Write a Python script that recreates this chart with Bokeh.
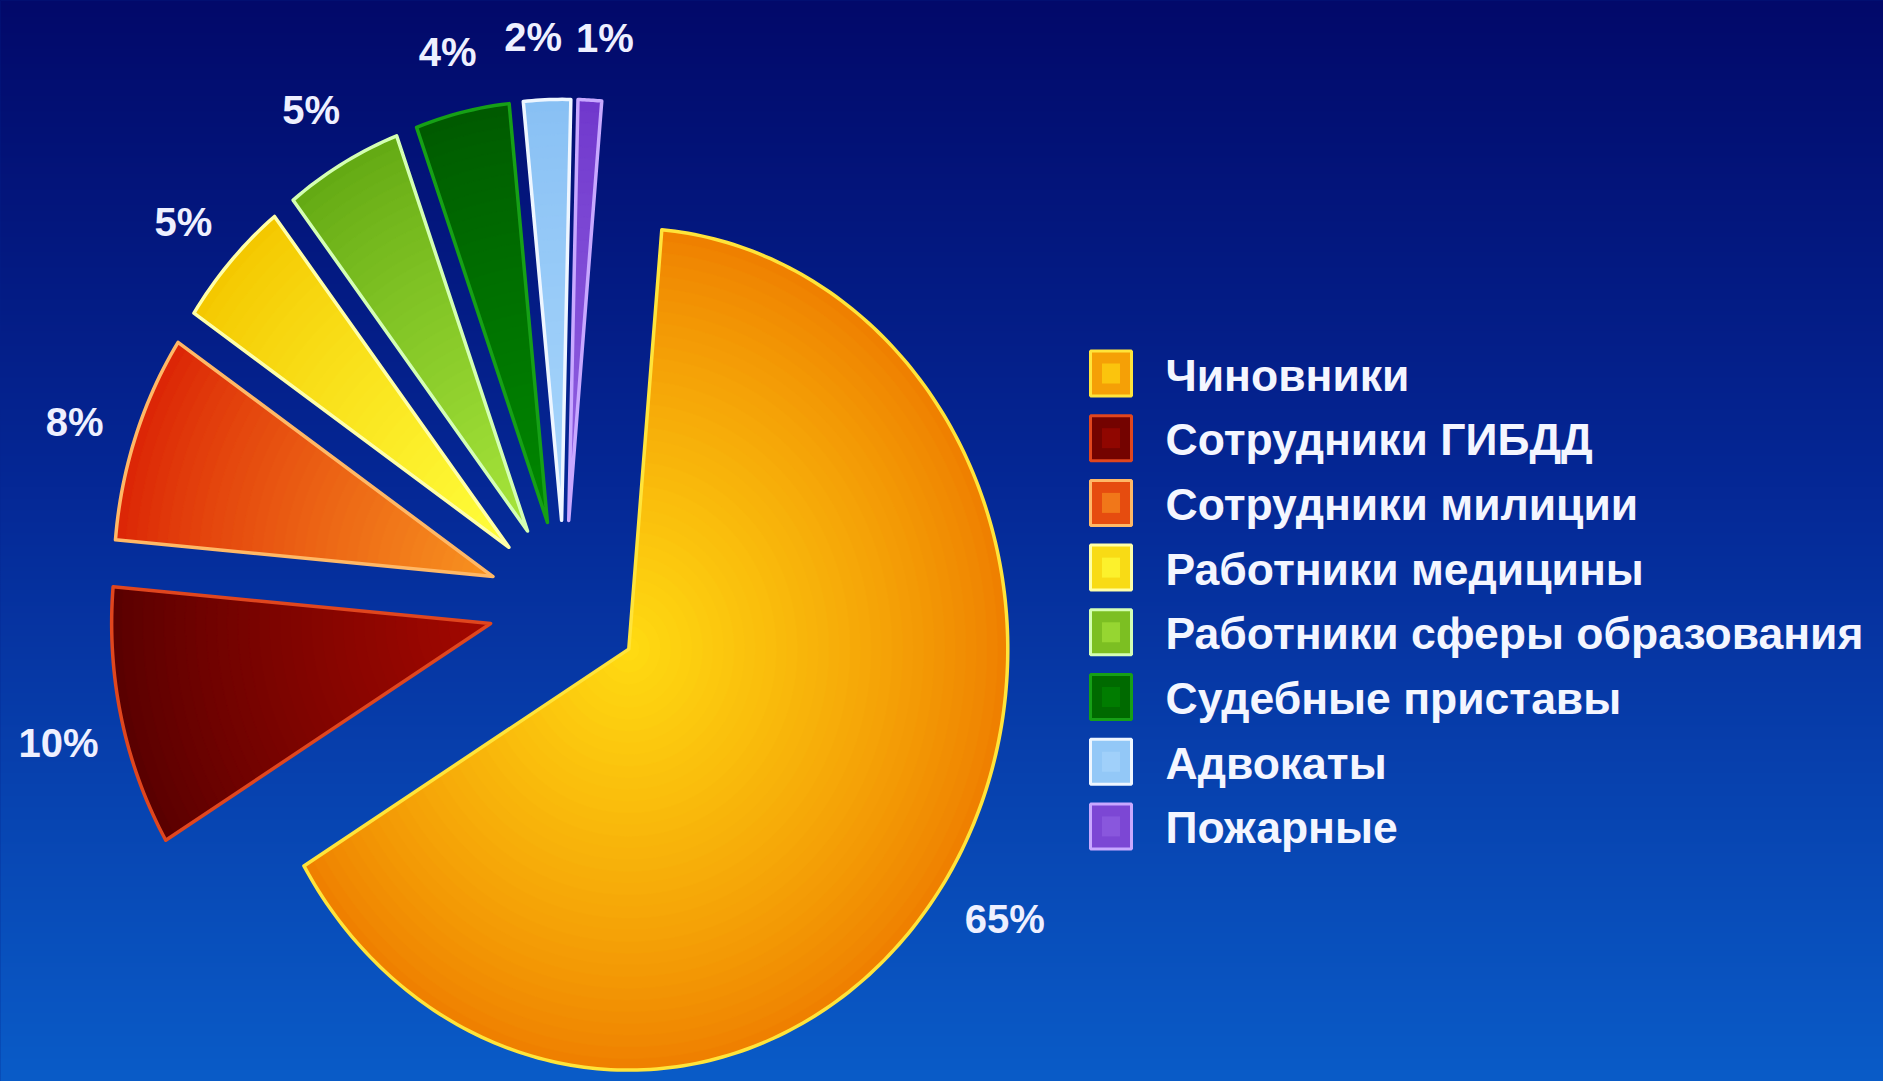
import numpy as np
from bokeh.plotting import figure
from bokeh.models import Range1d, ColumnDataSource, GlobalInlineStyleSheet
from bokeh.core.properties import value
from bokeh.embed import file_html
from bokeh.resources import INLINE

# ---------------- data ----------------
categories = ["Чиновники", "Сотрудники ГИБДД", "Сотрудники милиции",
              "Работники медицины", "Работники сферы образования",
              "Судебные приставы", "Адвокаты", "Пожарные"]
shares = [65, 10, 8, 5, 5, 4, 2, 1]
pct_labels = [f"{v}%" for v in shares]

# ---------------- styles ----------------
rim_colors = ["#ef8000", "#5a0000", "#dc2606", "#f4c800", "#64aa14", "#005a00", "#88c0f4", "#7038cc"]
core_colors = ["#ffdc12", "#a40800", "#f89420", "#ffff3c", "#a8e63c", "#008800", "#a8d6fc", "#9262e2"]
edge_colors = ["#ffe43a", "#e0461e", "#ffb866", "#ffffa8", "#d4ffb4", "#16a016", "#eef6ff", "#c8a8ff"]

W, H = 1883, 1081
CX, CY = 564.0, 604.0          # pie centre (px)
PX_X, PX_Y = 379.0, 421.0      # px per pie radius (horizontal / vertical)
START_DEG = 85.0
EXPLODE = 0.2
LABEL_R = 1.37
LABEL_DY = 9.0
LABEL_FS = 40
LEGEND_FS = 44.5


def dx(px):
    return (px - CX) / PX_X


def dy(py):
    return (CY - py) / PX_Y


page_css = GlobalInlineStyleSheet(
    css="html, body { margin: 0 !important; padding: 0 !important; overflow: hidden; "
        "background: linear-gradient(#020a6a, #05289a 45%, #0a5cc8) no-repeat; min-height: 100vh; }")

p = figure(width=W, height=H, output_backend="svg", toolbar_location=None,
           x_axis_location=None, y_axis_location=None,
           x_range=Range1d(dx(0), dx(W)), y_range=Range1d(dy(H), dy(0)),
           min_border=0, outline_line_color=None,
           background_fill_color="#05228a", border_fill_color="#05228a")
p.stylesheets = [page_css]
p.title.visible = False
p.grid.visible = False


def hex2rgb(h):
    h = h.lstrip("#")
    return np.array([int(h[i:i + 2], 16) for i in (0, 2, 4)], dtype=float)


def mix(c0, c1, t):
    a, b = hex2rgb(c0), hex2rgb(c1)
    c = a + (b - a) * t
    return "#%02x%02x%02x" % tuple(int(round(v)) for v in c)


# ---------------- background gradient ----------------
stops = [(0.0, (2, 9, 106)), (0.45, (5, 40, 150)), (1.0, (10, 92, 200))]  # top -> bottom
NR = H + 8
img = np.empty((NR, 2), dtype=np.uint32)
view = img.view(dtype=np.uint8).reshape((NR, 2, 4))
for row in range(NR):
    f = min(1.0, max(0.0, 1.0 - (row - 4) / (H - 1)))  # row 0 is the bottom of the image
    for k in range(len(stops) - 1):
        if stops[k][0] <= f <= stops[k + 1][0]:
            t = (f - stops[k][0]) / (stops[k + 1][0] - stops[k][0])
            c = [stops[k][1][j] + (stops[k + 1][1][j] - stops[k][1][j]) * t for j in range(3)]
            break
    view[row, :, 0] = int(c[0])
    view[row, :, 1] = int(c[1])
    view[row, :, 2] = int(c[2])
    view[row, :, 3] = 255
p.image_rgba(image=[img], x=dx(-4), y=dy(H + 4), dw=dx(W + 4) - dx(-4), dh=dy(-4) - dy(H + 4))

# ---------------- pie slices ----------------
total = float(sum(shares))
angles = []
acc = 0.0
for v in shares:
    a0 = np.radians(START_DEG - acc / total * 360.0)
    acc += v
    a1 = np.radians(START_DEG - acc / total * 360.0)
    angles.append((a0, a1))


def wedge(ax, ay, r, a0, a1):
    n = max(12, int(abs(a1 - a0) / np.pi * 180))
    t = np.linspace(a0, a1, n)
    xs = [ax] + list(ax + r * np.cos(t)) + [ax]
    ys = [ay] + list(ay + r * np.sin(t)) + [ay]
    return xs, ys


NB = 36
for i, (a0, a1) in enumerate(angles):
    mid = 0.5 * (a0 + a1)
    ax, ay = EXPLODE * np.cos(mid), EXPLODE * np.sin(mid)
    bx, by, bc = [], [], []
    for k in range(NB):
        r = 1.0 - k / NB
        xs, ys = wedge(ax, ay, r, a0, a1)
        bx.append(xs)
        by.append(ys)
        bc.append(mix(rim_colors[i], core_colors[i], (k / NB) ** 0.85))
    p.patches(xs=bx, ys=by, fill_color=bc, line_color=bc, line_width=1)
    xs, ys = wedge(ax, ay, 1.0, a0, a1)
    p.patch(xs, ys, fill_alpha=0, line_color=edge_colors[i], line_width=3.5, line_join="round")

# ---------------- percentage labels ----------------
cw = {"%": 0.889}
lx, ly, lw = [], [], []
for i, (a0, a1) in enumerate(angles):
    mid = 0.5 * (a0 + a1)
    lx.append(CX + LABEL_R * PX_X * np.cos(mid))
    ly.append(CY - LABEL_R * PX_Y * np.sin(mid) + LABEL_DY)
    lw.append(sum(cw.get(ch, 0.556) for ch in pct_labels[i]) * LABEL_FS)
for i in range(len(lx) - 1):
    j = i + 1
    if abs(ly[i] - ly[j]) < LABEL_FS:
        need = (lw[i] + lw[j]) / 2 + 14
        d = lx[j] - lx[i]
        if abs(d) < need:
            s = 1.0 if d >= 0 else -1.0
            sh = (need - abs(d)) / 2
            lx[i] -= s * sh
            lx[j] += s * sh
lab_src = ColumnDataSource(dict(x=[dx(v) for v in lx], y=[dy(v) for v in ly], t=pct_labels))
p.text(x="x", y="y", text="t", source=lab_src, text_font=value("Liberation Sans"),
       text_font_style="bold", text_font_size=f"{LABEL_FS}px", text_color="#eef0ff",
       text_align="center", text_baseline="middle")

# ---------------- legend ----------------
LEG_BOX_X, LEG_ROW0, LEG_PITCH = 1110.5, 373.0, 64.7
LEG_TEXT_X = 1165.0
rows = [LEG_ROW0 + LEG_PITCH * i for i in range(len(categories))]
leg_src = ColumnDataSource(dict(
    x=[dx(LEG_BOX_X)] * len(categories), y=[dy(r) for r in rows],
    fill=[mix(rim_colors[i], core_colors[i], 0.35) for i in range(len(categories))],
    core=core_colors, edge=edge_colors, t=categories))
p.rect(x="x", y="y", width=41 / PX_X, height=45 / PX_Y, source=leg_src,
       fill_color="fill", line_color="edge", line_width=3)
p.rect(x="x", y="y", width=18 / PX_X, height=20 / PX_Y, source=leg_src,
       fill_color="core", fill_alpha=0.6, line_color=None)
p.text(x=[dx(LEG_TEXT_X)] * len(categories), y=[dy(r + 1.5) for r in rows], text=categories,
       text_font=value("Liberation Sans"), text_font_style="bold",
       text_font_size=f"{LEGEND_FS}px", text_color="#f4f6ff",
       text_align="left", text_baseline="middle")

open("out.html", "w").write(file_html(p, INLINE))
